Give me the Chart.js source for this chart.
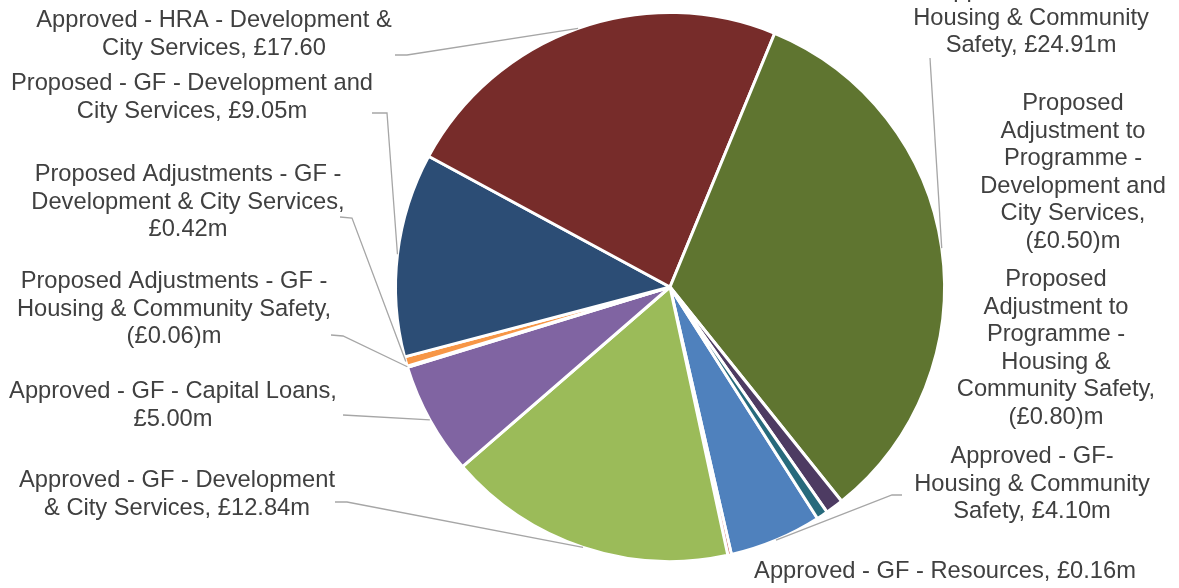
<!DOCTYPE html>
<html>
<head>
<meta charset="utf-8">
<script src="https://cdn.jsdelivr.net/npm/chart.js@4.4.1/dist/chart.umd.min.js"></script>
<style>
  html, body { margin: 0; padding: 0; background: #fff; }
  #wrap { width: 1179px; height: 588px; }
</style>
</head>
<body>
<div id="wrap"><canvas id="capital-pie" width="1179" height="588"></canvas></div>
<script>
const categories = [
  "Approved - GF- Housing & Community Safety",
  "Approved - GF - Resources",
  "Approved - GF - Development & City Services",
  "Approved - GF - Capital Loans",
  "Proposed Adjustments - GF - Housing & Community Safety",
  "Proposed Adjustments - GF - Development & City Services",
  "Proposed - GF - Development and City Services",
  "Approved - HRA - Development & City Services",
  "Approved - HRA - Housing & Community Safety",
  "Proposed Adjustment to Programme - Housing & Community Safety",
  "Proposed Adjustment to Programme - Development and City Services",
];
// £m, slice size uses the absolute amount
const amounts = [4.10, 0.16, 12.84, 5.00, 0.06, 0.42, 9.05, 17.60, 24.91, 0.80, 0.50];
const valueLabels = [
  "£4.10m", "£0.16m", "£12.84m", "£5.00m", "(£0.06)m", "£0.42m",
  "£9.05m", "£17.60", "£24.91m", "(£0.80)m", "(£0.50)m",
];
const sliceColors = [
  "#4F81BD", "#C0504D", "#9BBB59", "#8064A2", "#4BACC6", "#F79646",
  "#2C4D75", "#772C2A", "#5F7530", "#4D3B62", "#276A7C",
];

// label text is wrapped the way the original shows it
const labelLines = [
  ["Approved - GF-", "Housing & Community", "Safety, £4.10m"],
  ["Approved - GF - Resources, £0.16m"],
  ["Approved - GF - Development", "& City Services, £12.84m"],
  ["Approved - GF - Capital Loans,", "£5.00m"],
  ["Proposed Adjustments - GF -", "Housing & Community Safety,", "(£0.06)m"],
  ["Proposed Adjustments - GF -", "Development & City Services,", "£0.42m"],
  ["Proposed - GF - Development and", "City Services, £9.05m"],
  ["Approved - HRA - Development &", "City Services, £17.60"],
  ["Approved - HRA -", "Housing & Community", "Safety, £24.91m"],
  ["Proposed", "Adjustment to", "Programme -", "Housing &", "Community Safety,", "(£0.80)m"],
  ["Proposed", "Adjustment to", "Programme -", "Development and", "City Services,", "(£0.50)m"],
];

// where each label block sits: centre x, first baseline, leader start (null = none)
const labelPlace = [
  { x: 1032, y: 463, leader: [[902, 495], [892, 495]] },
  { x: 945, y: 578, leader: null },
  { x: 177, y: 487, leader: [[335, 502], [347, 502]] },
  { x: 173, y: 398, leader: [[343, 415]] },
  { x: 174, y: 288, leader: [[331, 335], [343, 336]] },
  { x: 188, y: 181, leader: [[340, 217], [352, 218]] },
  { x: 192, y: 90, leader: [[372, 113], [387, 113]] },
  { x: 214, y: 27, leader: [[395, 55], [407, 55]] },
  { x: 1031, y: -3, leader: [[930, 58]] },
  { x: 1056, y: 286, leader: null },
  { x: 1073, y: 110, leader: null },
];

const outsideLabels = {
  id: "outsideLabels",
  afterDraw(chart) {
    const ctx = chart.ctx;
    const arcs = chart.getDatasetMeta(0).data;
    ctx.save();
    ctx.strokeStyle = "#A6A6A6";
    ctx.lineWidth = 1.3;
    arcs.forEach((arc, i) => {
      const place = labelPlace[i];
      if (!place.leader) return;
      const p = arc.getProps(["x", "y", "startAngle", "endAngle", "outerRadius"], true);
      const mid = (p.startAngle + p.endAngle) / 2;
      const ex = p.x + Math.cos(mid) * p.outerRadius;
      const ey = p.y + Math.sin(mid) * p.outerRadius;
      ctx.beginPath();
      place.leader.forEach((pt, k) => (k === 0 ? ctx.moveTo(pt[0], pt[1]) : ctx.lineTo(pt[0], pt[1])));
      ctx.lineTo(ex, ey);
      ctx.stroke();
    });
    ctx.fillStyle = "#404040";
    ctx.font = "23.7px 'Liberation Sans', Arial, sans-serif";
    ctx.textAlign = "center";
    ctx.textBaseline = "alphabetic";
    labelLines.forEach((lines, i) => {
      const place = labelPlace[i];
      lines.forEach((line, k) => ctx.fillText(line, place.x, place.y + k * 27.6));
    });
    ctx.restore();
  },
};

const ctx = document.getElementById("capital-pie").getContext("2d");
new Chart(ctx, {
  type: "pie",
  data: {
    labels: categories,
    datasets: [
      {
        data: amounts,
        backgroundColor: sliceColors,
        borderColor: "#ffffff",
        borderWidth: 3,
      },
    ],
  },
  options: {
    responsive: false,
    devicePixelRatio: 1,
    animation: false,
    rotation: 147.5,
    layout: { padding: { left: 394, right: 233, top: 11, bottom: 25 } },
    plugins: {
      legend: { display: false },
      tooltip: { enabled: false },
    },
  },
  plugins: [outsideLabels],
});
</script>
</body>
</html>
